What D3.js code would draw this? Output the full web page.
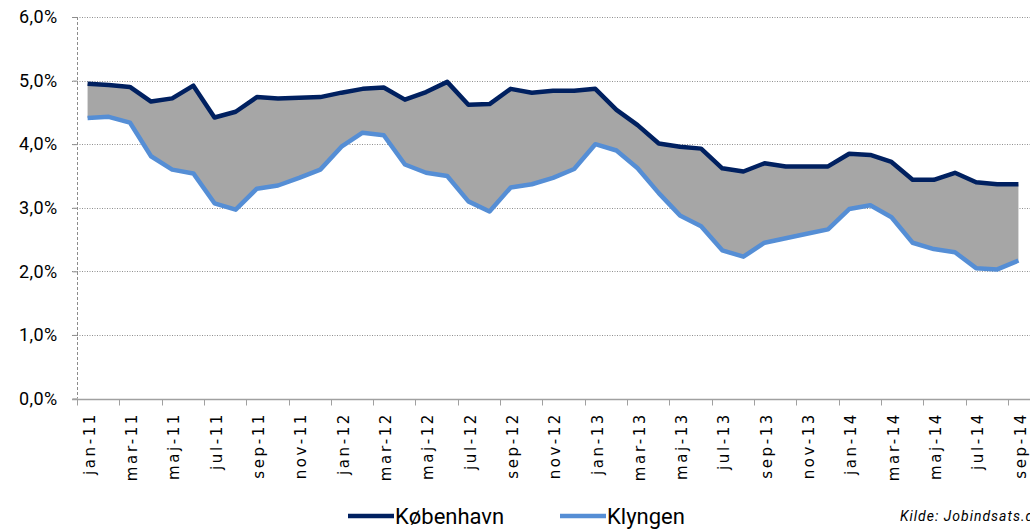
<!DOCTYPE html>
<html>
<head>
<meta charset="utf-8">
<script src="https://cdn.jsdelivr.net/npm/d3@7"></script>
<style>
    body { margin: 0; background: #fff; }
    svg { display: block; font-family: Roboto, "Open Sans", sans-serif; }
</style>
</head>
<body>
<div id="chart"></div>
<script>
// months jan-11 .. sep-14
var monthNames = ["jan","feb","mar","apr","maj","jun","jul","aug","sep","okt","nov","dec"];
var months = [];
for (var yr = 11; yr <= 14; yr++) {
    for (var m = 0; m < 12; m++) {
        if (yr == 14 && m > 8) break;
        months.push(monthNames[m] + "-" + yr);
    }
}

// ledighed i procent
var kobenhavn = [4.95,4.93,4.90,4.67,4.72,4.92,4.42,4.51,4.74,4.72,4.73,4.74,
                 4.81,4.87,4.89,4.70,4.82,4.98,4.62,4.63,4.87,4.81,4.84,4.84,
                 4.87,4.54,4.30,4.01,3.96,3.93,3.62,3.57,3.70,3.65,3.65,3.65,
                 3.85,3.83,3.72,3.44,3.44,3.55,3.40,3.37,3.37];
var klyngen   = [4.41,4.43,4.34,3.81,3.60,3.54,3.07,2.97,3.30,3.35,3.47,3.60,
                 3.96,4.18,4.14,3.68,3.55,3.50,3.10,2.94,3.32,3.37,3.47,3.61,
                 4.00,3.90,3.62,3.23,2.88,2.71,2.33,2.23,2.45,2.52,2.59,2.66,
                 2.98,3.04,2.85,2.45,2.35,2.30,2.05,2.03,2.17];
var yTicks = [0,1,2,3,4,5,6];

var W = 1030, H = 530;
var margin = {top: 17, right: 1, bottom: 131, left: 77};

var svg = d3.select("#chart").append("svg")
    .attr("width", W)
    .attr("height", H);

var x = d3.scaleBand()
    .domain(months)
    .range([margin.left, W - margin.right])
    .padding(0);
var bw = x.bandwidth();
function cx(i) { return x(months[i]) + bw / 2; }

var y = d3.scaleLinear()
    .domain([0, 6])
    .range([H - margin.bottom - 0.5, margin.top]);

// gridlines
svg.append("g")
    .selectAll("line")
    .data(yTicks.slice(1))
    .enter().append("line")
    .attr("x1", margin.left - 5)
    .attr("x2", W)
    .attr("y1", function(d) { return Math.round(y(d)) + 0.5; })
    .attr("y2", function(d) { return Math.round(y(d)) + 0.5; })
    .attr("stroke", "#8f8f8f")
    .attr("stroke-width", 1)
    .attr("stroke-dasharray", "1,1.5");

// area between the two series
var area = d3.area()
    .x(function(d, i) { return cx(i); })
    .y0(function(d, i) { return y(klyngen[i]); })
    .y1(function(d) { return y(d); });

svg.append("path")
    .datum(kobenhavn)
    .attr("d", area)
    .attr("fill", "#a6a6a6");

var line = d3.line()
    .x(function(d, i) { return cx(i); })
    .y(function(d) { return y(d); });

svg.append("path")
    .datum(klyngen)
    .attr("d", line)
    .attr("fill", "none")
    .attr("stroke", "#558ed5")
    .attr("stroke-width", 4.5)
    .attr("stroke-linejoin", "round");

svg.append("path")
    .datum(kobenhavn)
    .attr("d", line)
    .attr("fill", "none")
    .attr("stroke", "#002060")
    .attr("stroke-width", 4.5)
    .attr("stroke-linejoin", "round");

// y axis (dashed vertical line)
svg.append("line")
    .attr("x1", margin.left + 0.5).attr("x2", margin.left + 0.5)
    .attr("y1", y(6)).attr("y2", y(0))
    .attr("stroke", "#8c8c8c")
    .attr("stroke-dasharray", "3,2");

var yAxis = svg.append("g")
    .attr("transform", "translate(" + (margin.left + 0.5) + ",0)")
    .call(d3.axisLeft(y)
        .tickValues(yTicks)
        .tickSize(5)
        .tickPadding(15)
        .tickFormat(function(d) { return d.toFixed(1).replace(".", ",") + "%"; }));
yAxis.select(".domain").remove();
yAxis.selectAll(".tick line").attr("stroke", "#8c8c8c");
yAxis.selectAll("text")
    .attr("font-size", 18)
    .attr("letter-spacing", "0.4px")
    .attr("fill", "#000")
    .style("font-family", "Roboto, sans-serif");

// x axis
var baseY = Math.round(y(0)) + 0.5;
svg.append("line")
    .attr("x1", margin.left - 5).attr("x2", W)
    .attr("y1", baseY).attr("y2", baseY)
    .attr("stroke", "#a0a0a0")
    .attr("stroke-width", 1.5);

var evenIdx = d3.range(0, months.length, 2);

svg.append("g")
    .selectAll("line")
    .data(evenIdx)
    .enter().append("line")
    .attr("x1", function(i) { return Math.round(x(months[i])) + 0.5; })
    .attr("x2", function(i) { return Math.round(x(months[i])) + 0.5; })
    .attr("y1", baseY)
    .attr("y2", baseY + 6)
    .attr("stroke", "#a0a0a0");

svg.append("g")
    .selectAll("text")
    .data(evenIdx)
    .enter().append("text")
    .attr("transform", function(i) { return "translate(" + (cx(i) + 2) + "," + 412 + ") rotate(-90)"; })
    .attr("text-anchor", "end")
    .attr("dy", "0.35em")
    .attr("font-size", 15)
    .attr("letter-spacing", "2.6px")
    .attr("fill", "#000")
    .style("font-family", "'DejaVu Sans', sans-serif")
    .text(function(i) { return months[i]; });

// legend
var legend = [
    {name: "København", color: "#002060", x: 348},
    {name: "Klyngen", color: "#558ed5", x: 560}
];
var lg = svg.append("g")
    .selectAll("g")
    .data(legend)
    .enter().append("g")
    .attr("transform", function(d) { return "translate(" + d.x + ",516)"; });
lg.append("line")
    .attr("x1", 0).attr("x2", 46)
    .attr("stroke", function(d) { return d.color; })
    .attr("stroke-width", 4.5);
lg.append("text")
    .attr("x", 47)
    .attr("y", 8)
    .attr("font-size", 22)
    .attr("fill", "#000")
    .text(function(d) { return d.name; });

svg.append("text")
    .attr("x", 900)
    .attr("y", 521)
    .attr("font-size", 14)
    .attr("font-style", "italic")
    .attr("letter-spacing", "1px")
    .attr("fill", "#000")
    .text("Kilde:  Jobindsats.dk");
</script>
</body>
</html>
